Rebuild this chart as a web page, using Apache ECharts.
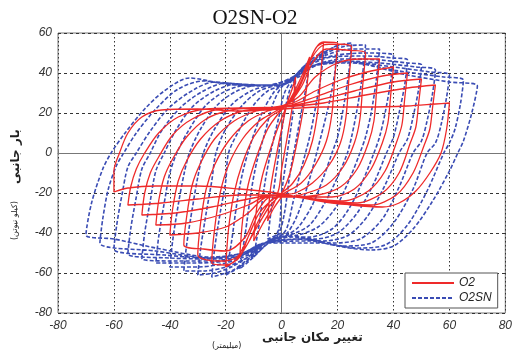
<!DOCTYPE html>
<html>
<head>
<meta charset="utf-8">
<script src="https://cdn.jsdelivr.net/npm/echarts@6/dist/echarts.min.js"></script>
<style>
  html, body { margin: 0; padding: 0; background: #fff; }
  #chart { width: 515px; height: 362px; }
</style>
</head>
<body>
<div id="chart"></div>
<script>
// tick labels
var xTicks = [-80, -60, -40, -20, 0, 20, 40, 60, 80];
var yTicks = [-80, -60, -40, -20, 0, 20, 40, 60];

// O2 (red) - one array per cycle, [displacement mm, load kN]
var o2Cycles = [
  [[0,-22],[-3,-28],[-5,-34],[-4,-18],[-2,-2],[0,12],[2,25],[4,33],[5,38],[4,25],[2,8],[0,-8],[-1,-18]],
  [[-3,-26],[-7,-36],[-10,-44],[-9,-28],[-7,-12],[-4,2],[-1,14],[2,24],[5,32],[8,41],[10,48],[9,33],[7,16],[5,2],[3,-10],[0,-20]],
  [[-4,-26],[-8,-35],[-12,-45],[-15,-52],[-14,-34],[-12,-16],[-9,-2],[-5,12],[-1,20],[3,26],[7,36],[10,46],[12.5,53],[15,55],[14,40],[13,22],[11,6],[8,-6],[4,-15],[0,-20]],
  [[-4,-24],[-8,-33],[-12,-45],[-16,-53],[-20,-57],[-19,-38],[-17,-20],[-14,-5],[-10,8],[-5,17],[0,22],[5,30],[9,42],[12,52],[15,55.5],[20,55],[19,38],[18,20],[16,6],[12,-6],[7,-15],[1,-20]],
  [[-3,-23],[-8,-30],[-12,-42],[-15,-52],[-20,-56],[-25,-55],[-24,-38],[-22,-20],[-19,-6],[-14,7],[-8,16],[-2,21],[4,27],[8,38],[11,48],[15,54],[20,54.5],[25,53],[24,36],[23,18],[21,5],[17,-6],[11,-15],[5,-20],[0,-21]],
  [[-3,-23],[-8,-30],[-12,-42],[-16,-52],[-22,-54],[-30,-51],[-29,-35],[-27,-18],[-24,-6],[-19,6],[-12,16],[-5,21],[2,24],[7,33],[11,45],[16,52],[23,51.5],[30,50],[29,34],[28,17],[26,5],[22,-7],[16,-16],[9,-20],[2,-22]],
  [[-4,-22],[-9,-30],[-13,-42],[-20,-49],[-28,-48],[-35,-46],[-34,-32],[-32,-16],[-29,-5],[-24,7],[-17,16],[-9,21],[-1,23],[6,28],[12,38],[20,45],[28,47],[35,47],[34,32],[33,16],[31,5],[27,-8],[21,-17],[13,-21],[4,-22]],
  [[-5,-22],[-12,-30],[-20,-37],[-30,-40],[-40,-41],[-39,-28],[-37,-14],[-34,-4],[-29,7],[-22,16],[-14,21],[-5,22.5],[4,25],[12,31],[22,37],[32,41],[40,43],[39,29],[38,15],[36,5],[32,-8],[26,-18],[18,-22],[8,-22]],
  [[-4,-21],[-12,-26],[-22,-31],[-34,-35],[-45,-36],[-44,-24],[-42,-12],[-39,-3],[-34,8],[-27,17],[-18,21.5],[-8,22.5],[2,23.5],[12,28],[24,34],[36,38.5],[45,40],[44,27],[43,14],[41,5],[37,-9],[31,-19],[22,-24],[12,-23]],
  [[-2,-21],[-12,-23],[-25,-27],[-38,-30],[-50,-31],[-49,-20],[-47,-10],[-44,-2],[-39,9],[-32,17],[-22,22],[-12,22.5],[0,23],[12,26],[26,31],[40,35.5],[50,37],[49,25],[48,13],[46,5],[42,-10],[36,-20],[27,-25],[15,-24]],
  [[-2,-21],[-15,-21],[-30,-23],[-43,-25],[-55,-26],[-54,-17],[-52,-8],[-49,0],[-44,10],[-37,18],[-27,22],[-15,22.5],[0,23],[15,25],[30,29],[45,32.5],[55,34],[54,23],[53,12],[51,4],[47,-10],[41,-21],[32,-26],[18,-25]],
  [[-2,-20],[-15,-18],[-30,-16.5],[-45,-16.5],[-55,-17.5],[-60,-19.5],[-60,-9],[-58,0],[-55,10],[-50,18],[-43,21.5],[-30,22],[-15,21],[0,22],[15,23],[30,23],[45,23.5],[55,24.5],[60,25],[59,12],[57,0],[53,-10],[48,-19],[42,-25],[36,-27],[25,-26],[15,-24],[5,-21]]
];

// O2SN (blue) - one array per cycle
var o2snCycles = [
  [[0,-40],[-5,-43],[-3,-20],[-1,0],[1,20],[3,32],[5,37],[4,20],[2,0],[0,-20],[-1,-38]],
  [[-4,-44],[-8,-49],[-10,-52],[-8,-35],[-6,-15],[-4,0],[-1,18],[1,30],[4,37],[7,42],[10,46],[9,35],[7,20],[5,5],[3,-10],[1,-30],[-1,-40]],
  [[-5,-45],[-10,-52],[-15,-58],[-13,-40],[-11,-20],[-9,-5],[-6,10],[-3,25],[0,33],[5,39],[10,46],[15,51],[14,38],[12,22],[10,8],[7,-8],[4,-25],[2,-37],[0,-41]],
  [[-5,-44],[-10,-51],[-15,-57],[-20,-61],[-18,-45],[-16,-25],[-14,-10],[-11,5],[-7,20],[-3,30],[0,34],[5,39],[10,45],[15,50],[20,54],[19,40],[17,25],[14,8],[11,-8],[8,-22],[5,-33],[2,-40],[0,-41]],
  [[-6,-45],[-12,-53],[-18,-59],[-25,-62],[-24,-48],[-22,-30],[-20,-14],[-19,0],[-15,12],[-10,24],[-5,31],[0,34],[5,39],[10,45],[16,51],[21,54],[25,55],[24,40],[22,22],[20,8],[18,0],[15,-12],[11,-26],[6,-37],[2,-41],[0,-42]],
  [[-6,-45],[-12,-52],[-18,-57],[-24,-60],[-30,-61],[-29,-48],[-27,-30],[-25,-14],[-23.5,0],[-20,12],[-14,24],[-8,31],[-2,34],[4,38],[10,45],[16,50],[23,53.5],[30,54],[29,40],[27,22],[25,8],[23.5,0],[20,-12],[15,-26],[10,-36],[5,-40],[0,-42]],
  [[-6,-45],[-12,-52],[-20,-57],[-28,-59],[-35,-59],[-34,-46],[-32,-28],[-30,-12],[-28,0],[-24,12],[-18,24],[-11,31],[-4,34],[3,37],[9,44],[16,49],[25,52],[35,52],[34,38],[32,20],[30,8],[28,0],[24,-14],[19,-28],[13,-37],[6,-41],[0,-42]],
  [[-6,-45],[-12,-51],[-20,-55],[-30,-57],[-40,-57],[-39,-44],[-37,-26],[-35,-11],[-33,0],[-29,12],[-23,24],[-16,31],[-8,34],[0,34],[6,40],[12,46],[20,49],[30,50],[40,49],[39,36],[37,20],[35,8],[33,0],[29,-14],[24,-28],[18,-38],[10,-42],[3,-42]],
  [[-6,-45],[-12,-50],[-20,-54],[-32,-55],[-45,-55],[-44,-42],[-42,-25],[-40,-10],[-37.5,0],[-33,12],[-27,24],[-20,31],[-12,34],[-4,34],[4,38],[10,44],[18,48],[30,48.5],[40,47.5],[45,46.5],[44,34],[42,20],[40,8],[37.5,0],[33,-15],[27,-30],[20,-40],[12,-43],[4,-42]],
  [[-6,-45],[-14,-51],[-25,-54],[-38,-54],[-50,-53],[-49,-40],[-47,-24],[-45,-9],[-42,0],[-38,11],[-32,23],[-24,31],[-16,34.5],[-8,34],[0,34],[6,39],[12,44],[22,47],[35,46.5],[45,45],[50,44],[49,32],[47,18],[45,7],[42,0],[37,-16],[31,-31],[24,-41],[15,-44],[6,-43]],
  [[-6,-45],[-14,-51],[-25,-53],[-40,-52.5],[-55,-50.5],[-54,-38],[-52,-22],[-50,-8],[-47,0],[-43,11],[-36,23],[-28,31],[-20,35],[-10,34],[0,34],[6,39],[12,44],[22,46],[35,45],[48,43],[55,41.5],[54,30],[52,16],[50,6],[47,0],[42,-17],[36,-33],[28,-43],[18,-45],[8,-43]],
  [[-6,-45],[-14,-50],[-25,-52.5],[-42,-51],[-60,-48],[-59,-36],[-57,-20],[-55,-7],[-52,0],[-47,11],[-40,23],[-31,32],[-24,35.5],[-12,34],[0,34],[6,39],[12,44],[24,45.5],[40,43],[53,40.5],[60,39],[59,28],[57,14],[55,5],[52,0],[47,-18],[40,-35],[32,-45],[22,-46.5],[10,-44]],
  [[-6,-45],[-14,-50],[-25,-52.5],[-45,-49],[-65,-45],[-64,-33],[-62,-18],[-59,-6],[-56.5,0],[-52,10],[-45,22],[-37,32],[-28,36],[-16,34],[-4,34],[4,38],[12,44],[25,45],[42,41],[58,38],[65,36.5],[64,25],[62,12],[60,5],[58,0],[52,-19],[45,-36],[37,-46],[27,-47.5],[14,-45]],
  [[-6,-45],[-14,-50],[-25,-52],[-45,-47.5],[-60,-43],[-70,-41],[-68,-25],[-64,-8],[-61,0],[-56,10],[-49,22],[-42,31],[-33,37.5],[-22,35],[-10,33.5],[0,34],[6,38],[13,44],[25,45],[45,39],[60,35.5],[70,33.5],[68,20],[65,6],[63,0],[60,-9],[54,-24],[47,-38],[40,-46.5],[32,-48.5],[22,-47],[12,-44],[4,-41]]
];

function flatten(cycles) {
  var out = [];
  cycles.forEach(function (c) { out = out.concat(c); });
  return out;
}

var myChart = echarts.init(document.getElementById('chart'));

var labelStyle = { color: '#333', fontSize: 12, fontStyle: 'italic', fontFamily: 'Liberation Sans' };

var option = {
  animation: false,
  backgroundColor: '#fff',
  title: {
    text: 'O2SN-O2',
    left: 250, top: 3, textAlign: 'center',
    textStyle: { fontFamily: 'Liberation Serif', fontSize: 21, fontWeight: 'normal', color: '#111' }
  },
  grid: { left: 58, right: 7, top: 33, bottom: 49, show: true, borderColor: '#777', borderWidth: 1 },
  legend: {
    orient: 'vertical', left: 405, top: 273,
    data: ['O2', 'O2SN'],
    itemWidth: 42, itemHeight: 10, itemGap: 3,
    padding: [4, 6, 4, 6],
    itemStyle: { opacity: 0 },
    backgroundColor: '#fff', borderColor: '#555', borderWidth: 1, borderRadius: 0,
    textStyle: { fontStyle: 'italic', fontSize: 12, color: '#222', fontFamily: 'Liberation Sans' }
  },
  xAxis: {
    type: 'value', min: xTicks[0], max: xTicks[xTicks.length - 1], interval: 20,
    axisLine: { show: true, lineStyle: { color: '#777' } },
    axisTick: { show: true, inside: true, length: 4, lineStyle: { color: '#777' } },
    axisLabel: Object.assign({ margin: 7 }, labelStyle),
    splitLine: { show: true, lineStyle: { color: '#333', type: [1.5, 2.5], width: 1 } }
  },
  yAxis: {
    type: 'value', min: yTicks[0], max: yTicks[yTicks.length - 1], interval: 20,
    axisLine: { show: true, lineStyle: { color: '#777' } },
    axisTick: { show: true, inside: true, length: 4, lineStyle: { color: '#777' } },
    axisLabel: Object.assign({ margin: 6 }, labelStyle),
    splitLine: { show: true, lineStyle: { color: '#333', type: [3, 3], width: 1 } }
  },
  graphic: [
    { type: 'text', left: 262, top: 332, style: { text: 'تغییر مکان جانبی', font: 'bold 12px "DejaVu Sans"', fill: '#222' } },
    { type: 'text', left: 212, top: 342, style: { text: '(میلیمتر)', font: '8px "DejaVu Sans"', fill: '#222' } },
    { type: 'text', x: 10, y: 184, rotation: Math.PI / 2, style: { text: 'بار جانبی', font: 'bold 12px "DejaVu Sans"', fill: '#222' } },
    { type: 'text', x: 11, y: 240, rotation: Math.PI / 2, style: { text: '(کیلو نیوتن)', font: '8px "DejaVu Sans"', fill: '#222' } }
  ],
  series: [
    {
      name: 'O2SN', type: 'line', data: flatten(o2snCycles),
      showSymbol: false, symbol: 'none', smooth: 0.3, z: 2,
      lineStyle: { color: '#3a4cb4', width: 1.6, type: [4, 2] },
      itemStyle: { color: '#3a4cb4' }
    },
    {
      name: 'O2', type: 'line', data: flatten(o2Cycles),
      showSymbol: false, symbol: 'none', smooth: 0.3, z: 3,
      lineStyle: { color: '#ee2a2a', width: 1.3 },
      itemStyle: { color: '#ee2a2a' }
    }
  ]
};

myChart.setOption(option);
</script>
</body>
</html>
